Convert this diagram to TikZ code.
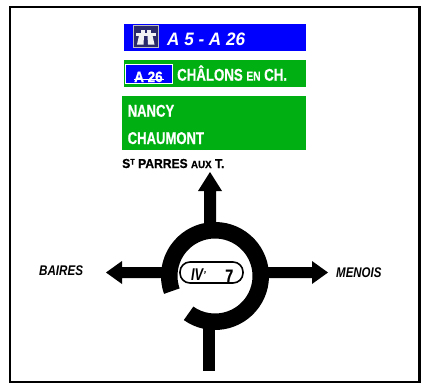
\documentclass[tikz,border=0pt]{standalone}
\usepackage{fontspec}
\setmainfont{Liberation Sans}[BoldFeatures={FakeBold=0.6}]
\usepackage{graphicx}
\definecolor{sblue}{HTML}{0000FF}
\definecolor{sgreen}{HTML}{00B012}
\definecolor{snavy}{HTML}{2A2A6A}
\newcommand{\cond}[2]{\scalebox{#1}[1]{\bfseries #2}}
\tikzset{
  panel/.style={inner sep=0pt,outer sep=0pt,anchor=north west},
  signtext/.style={inner sep=0pt,text=white,anchor=base west,font=\bfseries\fontsize{17}{18}\selectfont},
  place/.style={inner sep=0pt,text=black,anchor=base west,font=\bfseries\fontsize{13}{14}\selectfont},
  placei/.style={place,font=\bfseries\itshape\fontsize{14}{15}\selectfont},
  road/.style={fill=black,draw=none},
}
\begin{document}
\begin{tikzpicture}[x=1pt,y=-1pt,line join=miter]
\useasboundingbox (0,0) rectangle (426,383);
\fill[white] (0,0) rectangle (426,383);
\draw[black,line width=2.2pt] (10,7) rectangle (419.5,382);
% panels
\node[panel,fill=sblue,minimum width=182pt,minimum height=27pt] (p1) at (124,24) {};
\node[panel,fill=sgreen,minimum width=182pt,minimum height=27pt] (p2) at (124,60) {};
\node[panel,fill=sgreen,minimum width=184pt,minimum height=54pt] (p3) at (122,96) {};
% motorway icon
\fill[snavy] (133.5,25) rectangle (158,47);
\draw[gray!50!white,line width=1pt] (133.5,25) rectangle (158,47);
\fill[white!90!gray] (136,33) rectangle (155.5,35.5);
\fill[white!90!gray] (140.5,30) -- (144.5,30) -- (144.5,33) -- (140.5,33) -- cycle;
\fill[white!90!gray] (147,30) -- (151,30) -- (151,33) -- (147,33) -- cycle;
\fill[white!90!gray] (139,35.5) -- (144,35.5) -- (143.5,44.5) -- (137,44.5) -- cycle;
\fill[white!90!gray] (147.5,35.5) -- (152.5,35.5) -- (154.5,44.5) -- (148,44.5) -- cycle;
\node[signtext,font=\bfseries\itshape\fontsize{18}{19}\selectfont] (t1) at (167,45) {\cond{0.95}{A 5 - A 26}};
% A 26 box
\draw[white,fill=sblue,line width=1pt] (125,64) rectangle (172.5,83);
\node[signtext,font=\bfseries\fontsize{15}{16}\selectfont] (t2) at (134,82) {\cond{0.9}{A 26}};
\draw[white,line width=0.8pt] (134,79) -- (164,79);
\node[signtext] (t3) at (177,80.7) {\cond{0.78}{CHÂLONS {\fontsize{13}{14}\selectfont EN} CH.}};
\node[signtext] (t4) at (127.5,116.7) {\cond{0.77}{NANCY}};
\node[signtext] (t5) at (127.5,144) {\cond{0.77}{CHAUMONT}};
\node[place] (t6) at (122,168) {\cond{0.93}{S\raisebox{3.5pt}{\fontsize{8}{8}\selectfont T} PARRES {\fontsize{10.5}{11}\selectfont AUX} T.}};
% roads
\path[road] (204,225) -- (204,191) -- (198,191) -- (210,172) -- (222,191) -- (216,191) -- (216,225) -- cycle;
\path[road] (203,328) rectangle (215,371);
\path[road] (163,267) -- (122,267) -- (122,261) -- (106,272.5) -- (122,284) -- (122,278) -- (163,278) -- cycle;
\path[road] (267,267) -- (312,267) -- (312,261) -- (328,272.5) -- (312,284) -- (312,278) -- (267,278) -- cycle;
% ring
\begin{scope}[shift={(215,276)},y=1pt]
\fill[black] (234.7:54) arc[start angle=234.7,end angle=559.3,radius=54]
  -- (199.3:37.5) arc[start angle=559.3,end angle=234.7,radius=37.5] -- cycle;
\end{scope}
% pill
\node[draw=black,fill=white,line width=1.6pt,rounded corners=10pt,minimum width=63pt,minimum height=21pt,inner sep=0pt] (pill) at (211.5,272.5) {};
\node[inner sep=0pt,anchor=base west,font=\bfseries\itshape\fontsize{17}{18}\selectfont] (t7) at (191,280) {\cond{0.75}{IV}\raisebox{2pt}{\fontsize{10}{10}\selectfont '}};
\node[inner sep=0pt,anchor=base west,font=\bfseries\fontsize{18}{18}\selectfont] (t8) at (225,282) {\cond{0.8}{7}};
\node[placei] (t9) at (39,275) {\cond{0.83}{BAIRES}};
\node[placei] (t10) at (336,277) {\cond{0.82}{MENOIS}};
\end{tikzpicture}
\end{document}
